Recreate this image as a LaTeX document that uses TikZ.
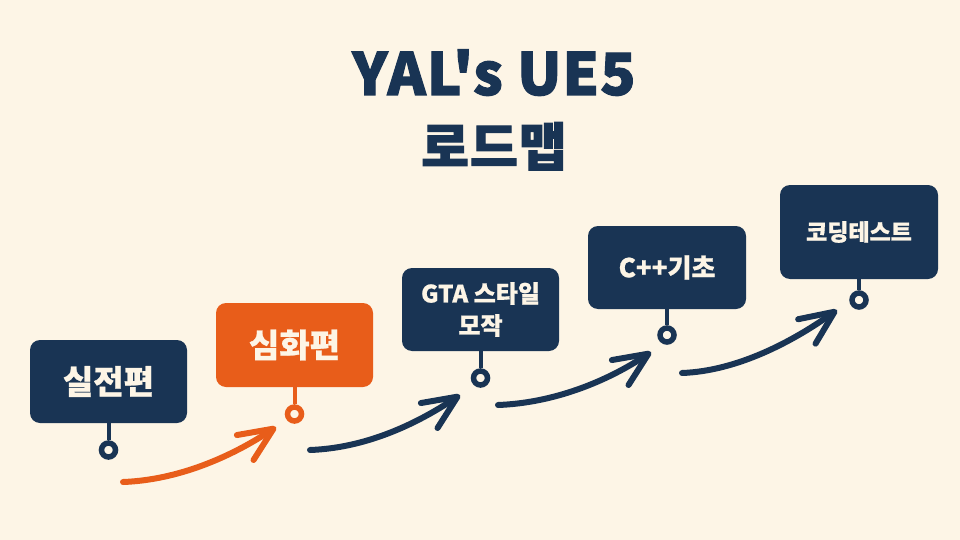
\documentclass[tikz,border=0pt]{standalone}
\usepackage{fontspec}
\setmainfont{Noto Sans CJK KR}[BoldFeatures={FakeBold=0.8}]
\newfontfamily\titlefont{Noto Sans CJK KR}[BoldFeatures={FakeBold=2,LetterSpace=2}]
\usetikzlibrary{arrows.meta,calc}
\definecolor{bg}{RGB}{253,245,230}
\definecolor{navy}{RGB}{25,52,84}
\definecolor{orng}{RGB}{232,93,26}
\begin{document}
\begin{tikzpicture}[x=1pt,y=-1pt,
  box/.style={rounded corners=10pt, minimum width=157pt, minimum height=83pt, inner sep=0pt,
    text=bg, font=\bfseries\fontsize{33}{36}\selectfont, align=center},
  navybox/.style={box, fill=navy},
  orangebox/.style={box, fill=orng},
  ring/.style={circle, draw=#1, fill=bg, line width=5.5pt, minimum size=14pt, inner sep=0pt},
  stem/.style={draw=#1, line width=4pt},
  flow/.style={draw=#1, line width=6pt, line cap=round,
    -{Straight Barb[length=34pt, width=30pt, round, line width=6pt]}},
  title/.style={text=navy, font=\titlefont\bfseries\fontsize{#1}{#1}\selectfont, anchor=base, inner sep=0pt}
]
\fill[bg] (0,0) rectangle (960,540);
\useasboundingbox (0,0) rectangle (960,540);

% title
\node[title=58] (t1) at (494,95) {YAL{\char39}s UE5};
\node[title=52] (t2) at (494,166) {로드맵};

% boxes
\node[navybox] (b1) at (108.5,381.5) {실전편};
\node[orangebox, minimum height=84pt] (b2) at (294.5,345) {심화편};
\node[navybox, font=\bfseries\fontsize{24}{32}\selectfont] (b3) at (480.5,309.5) {GTA 스타일\\모작};
\node[navybox, font=\bfseries\fontsize{26}{30}\selectfont, minimum width=158pt] (b4) at (667,267.5) {C++기초};
\node[navybox, font=\bfseries\fontsize{23}{28}\selectfont, minimum width=158pt, minimum height=94pt] (b5) at (859,232) {코딩테스트};

% rings and stems
\node[ring=navy] (r1) at (108.5,450) {};
\node[ring=orng] (r2) at (294.5,414) {};
\node[ring=navy] (r3) at (480.5,378) {};
\node[ring=navy] (r4) at (667,335) {};
\node[ring=navy] (r5) at (859,300) {};
\draw[stem=navy] (b1.south) -- (r1.north);
\draw[stem=orng] (b2.south) -- (r2.north);
\draw[stem=navy] (b3.south) -- (r3.north);
\draw[stem=navy] (b4.south) -- (r4.north);
\draw[stem=navy] (b5.south) -- (r5.north);

% flow arrows
\coordinate (a1s) at (123,482); \coordinate (a1e) at (276,427);
\coordinate (a2s) at (310,450); \coordinate (a2e) at (460,395);
\coordinate (a3s) at (498,405); \coordinate (a3e) at (651,352);
\coordinate (a4s) at (682,373); \coordinate (a4e) at (837,310);
\draw[flow=orng] (a1s) .. controls ($(a1s)+(55,-2)$) and ($(a1e)+(-45,30)$) .. (a1e);
\draw[flow=navy] (a2s) .. controls ($(a2s)+(55,-2)$) and ($(a2e)+(-45,30)$) .. (a2e);
\draw[flow=navy] (a3s) .. controls ($(a3s)+(55,-2)$) and ($(a3e)+(-45,30)$) .. (a3e);
\draw[flow=navy] (a4s) .. controls ($(a4s)+(55,-2)$) and ($(a4e)+(-45,32)$) .. (a4e);
\end{tikzpicture}
\end{document}
